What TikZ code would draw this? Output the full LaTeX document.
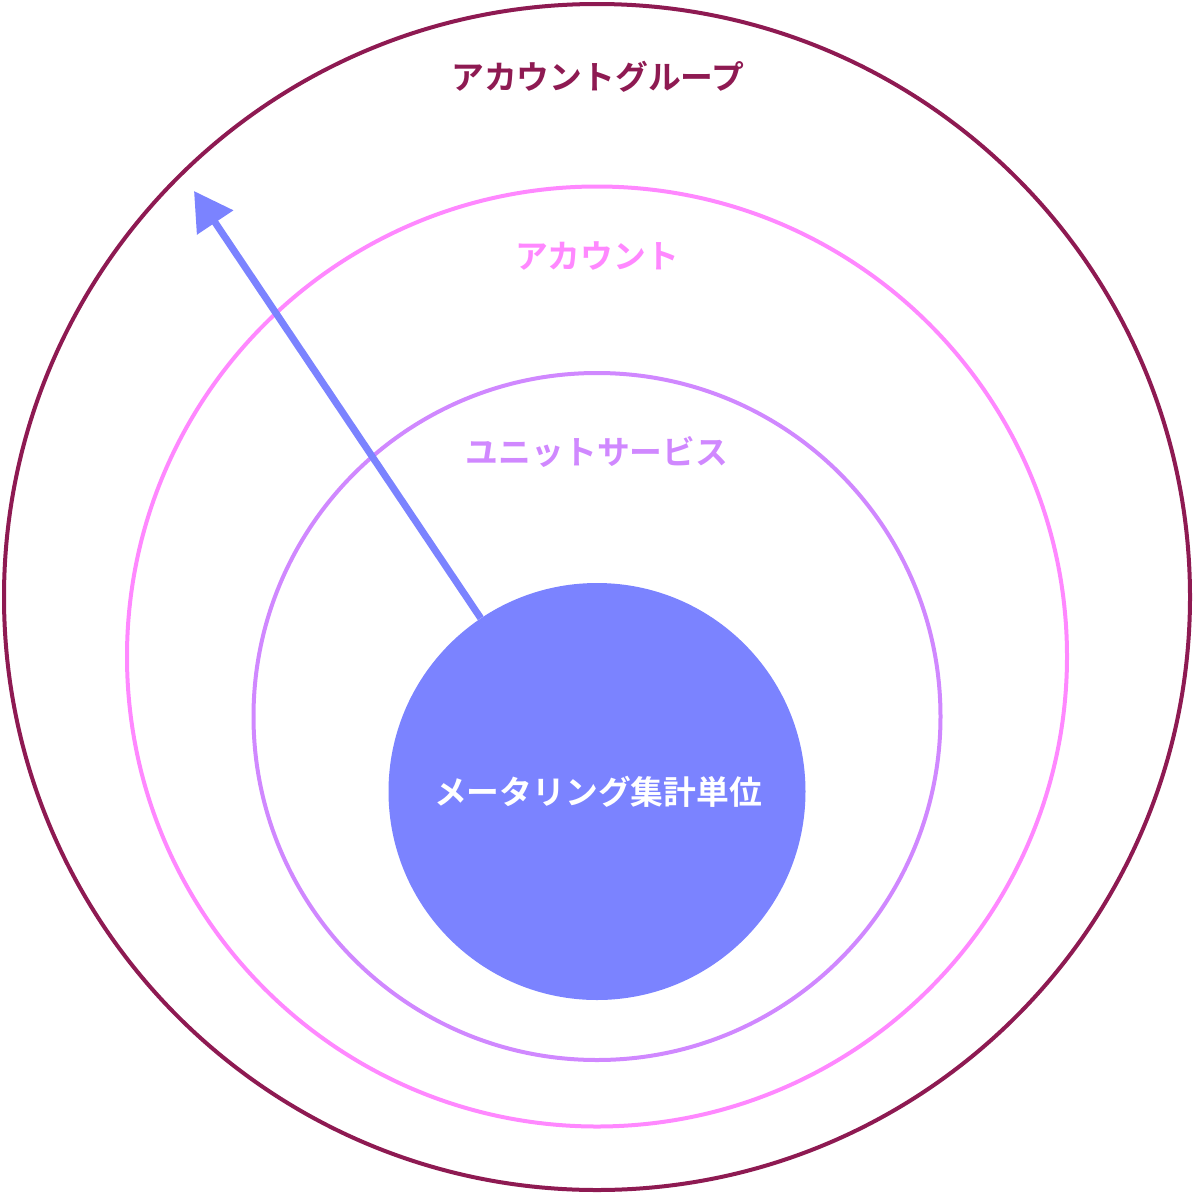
\documentclass[tikz,border=0pt]{standalone}
\usepackage{fontspec}
\newfontfamily\jpfont{Noto Sans CJK JP}[BoldFont={Noto Sans CJK JP Bold}]
\usetikzlibrary{arrows.meta}
\definecolor{cgroup}{HTML}{8E1A52}
\definecolor{cacct}{HTML}{FF88FF}
\definecolor{cunit}{HTML}{D088FF}
\definecolor{cmeter}{HTML}{7B83FF}
\begin{document}
\begin{tikzpicture}[x=1pt,y=-1pt,
  ring/.style={circle,draw,line width=4pt,inner sep=0pt},
  lbl/.style={font=\jpfont\bfseries\fontsize{32.8}{36}\selectfont,inner sep=0pt}]
\useasboundingbox (0,0) rectangle (1194,1194);
\node[ring,draw=cgroup,minimum size=1186pt] (group) at (597,597) {};
\node[ring,draw=cacct,minimum size=940pt] (acct) at (597,656.5) {};
\node[ring,draw=cunit,minimum size=687pt] (unit) at (597,716.5) {};
\node[circle,fill=cmeter,inner sep=0pt,minimum size=417pt] (meter) at (597,791.5) {};
\node[lbl,text=cgroup] (tgroup) at (598,77) {アカウントグループ};
\node[lbl,text=cacct] (tacct) at (597,256) {アカウント};
\node[lbl,text=cunit] (tunit) at (597,452) {ユニットサービス};
\node[lbl,text=white] (tmeter) at (598,792) {メータリング集計単位};
\coordinate (tip) at (194,191);
\draw[cmeter,line width=7pt,-{Triangle[length=38pt,width=42pt]}] (meter) -- (tip);
\end{tikzpicture}
\end{document}
